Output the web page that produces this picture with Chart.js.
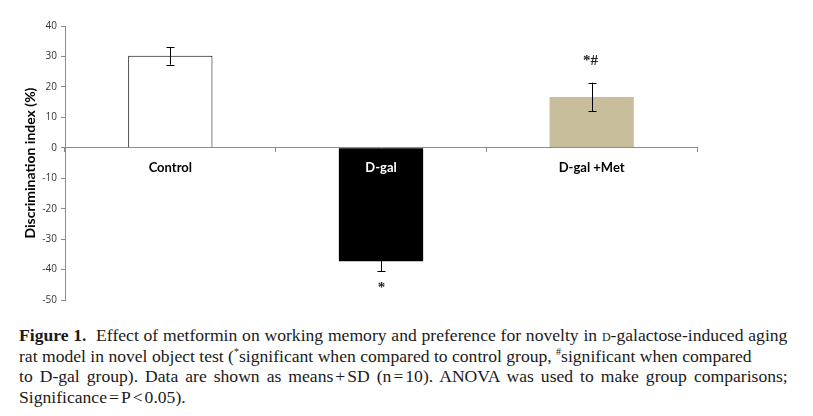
<!DOCTYPE html>
<html>
<head>
<meta charset="utf-8">
<script src="https://cdn.jsdelivr.net/npm/chart.js@4"></script>
<style>
  html, body { margin: 0; padding: 0; background: #fff; }
  body { width: 813px; height: 416px; position: relative; overflow: hidden; }
  #wrap { position: absolute; left: 0; top: 0; width: 813px; height: 320px; }
  #caption {
    position: absolute; left: 19px; top: 325px;
    font-family: 'Liberation Serif', serif; font-size: 17.6px; line-height: 20.5px;
    color: #1a1a1a; white-space: nowrap;
  }
  #caption b { font-weight: bold; }
  #caption sup { font-size: 10px; line-height: 0; }
  .sc { font-variant: small-caps; }
</style>
</head>
<body>
<div id="wrap"><canvas id="chart"></canvas></div>
<div id="caption">
  <span style="word-spacing:0.4px"><b>Figure 1.</b>&nbsp; Effect of metformin on working memory and preference for novelty in <span class="sc">d</span>-galactose-induced aging</span><br>
  rat model in novel object test (<sup>*</sup>significant when compared to control group, <sup>#</sup>significant when compared<br>
  <span style="word-spacing:2.6px">to D-gal group). Data are shown as means<span style="margin:0 2px">+</span>SD (n<span style="margin:0 2px">=</span>10). ANOVA was used to make group comparisons;</span><br>
  Significance<span style="margin:0 2px">=</span>P<span style="margin:0 2px">&lt;</span>0.05).
</div>
<script>
// data
const groups   = ['Control', 'D-gal', 'D-gal +Met'];
const means    = [30.2, -37.3, 16.7];
const sds      = [2.9, 3.3, 4.7];
const marks    = ['', '*', '*#'];
const barFills = ['#ffffff', '#000000', '#c9be9b'];
const yTicks   = { min: -50, max: 40, step: 10 };

// error bars + significance marks
const errorBars = {
    id: 'errorBars',
    afterDatasetsDraw(chart) {
        const ctx = chart.ctx;
        const meta = chart.getDatasetMeta(0);
        const y = chart.scales.y;
        ctx.save();
        ctx.strokeStyle = '#000';
        ctx.lineWidth = 1;
        meta.data.forEach((bar, i) => {
            const x = Math.round(bar.x) + 0.5;
            const top = y.getPixelForValue(means[i] + sds[i]);
            const bot = y.getPixelForValue(means[i] - sds[i]);
            ctx.beginPath();
            ctx.moveTo(x, top); ctx.lineTo(x, bot);
            ctx.moveTo(x - 4, Math.round(top) + 0.5); ctx.lineTo(x + 4, Math.round(top) + 0.5);
            ctx.moveTo(x - 4, Math.round(bot) + 0.5); ctx.lineTo(x + 4, Math.round(bot) + 0.5);
            ctx.stroke();

            if (marks[i]) {
                ctx.fillStyle = '#222';
                ctx.font = 'bold 15px "Liberation Serif", serif';
                ctx.textAlign = 'center';
                ctx.textBaseline = 'middle';
                if (means[i] < 0) ctx.fillText(marks[i], x, bot + 17);
                else ctx.fillText(marks[i], x - 2, top - 22);
            }
        });
        ctx.restore();
    }
};

new Chart(document.getElementById('chart'), {
    type: 'bar',
    data: {
        labels: groups,
        datasets: [{
            data: means,
            backgroundColor: barFills,
            borderColor: '#000',
            borderWidth: [1, 0, 0],
            barPercentage: 0.4,
            categoryPercentage: 1.0
        }]
    },
    options: {
        responsive: true,
        maintainAspectRatio: false,
        animation: false,
        layout: { padding: { left: 0, right: 116, top: 26, bottom: 20 } },
        plugins: { legend: { display: false }, tooltip: { enabled: false } },
        scales: {
            x: {
                position: { y: 0 },
                grid: { drawOnChartArea: false, offset: true, tickLength: 4, color: '#8c8c8c', z: 1 },
                border: { color: '#8c8c8c', z: 1 },
                ticks: {
                    z: 1,
                    padding: 8,
                    font: { family: 'Lato', weight: 'bold', size: 13 },
                    color: ctx => (ctx.index === 1 ? '#ffffff' : '#000000')
                }
            },
            y: {
                min: yTicks.min,
                max: yTicks.max,
                afterFit: s => { s.width = 65; },
                grid: { drawOnChartArea: false, tickLength: 4, color: '#8c8c8c' },
                border: { color: '#8c8c8c' },
                ticks: {
                    stepSize: yTicks.step,
                    padding: 4,
                    font: { family: 'Open Sans', size: 10 },
                    color: '#333'
                },
                title: {
                    display: true,
                    text: 'Discrimination index (%)',
                    font: { family: 'Lato', weight: 'bold', size: 14 },
                    color: '#000',
                    padding: { top: 22, bottom: 0 }
                }
            }
        }
    },
    plugins: [errorBars]
});
</script>
</body>
</html>
